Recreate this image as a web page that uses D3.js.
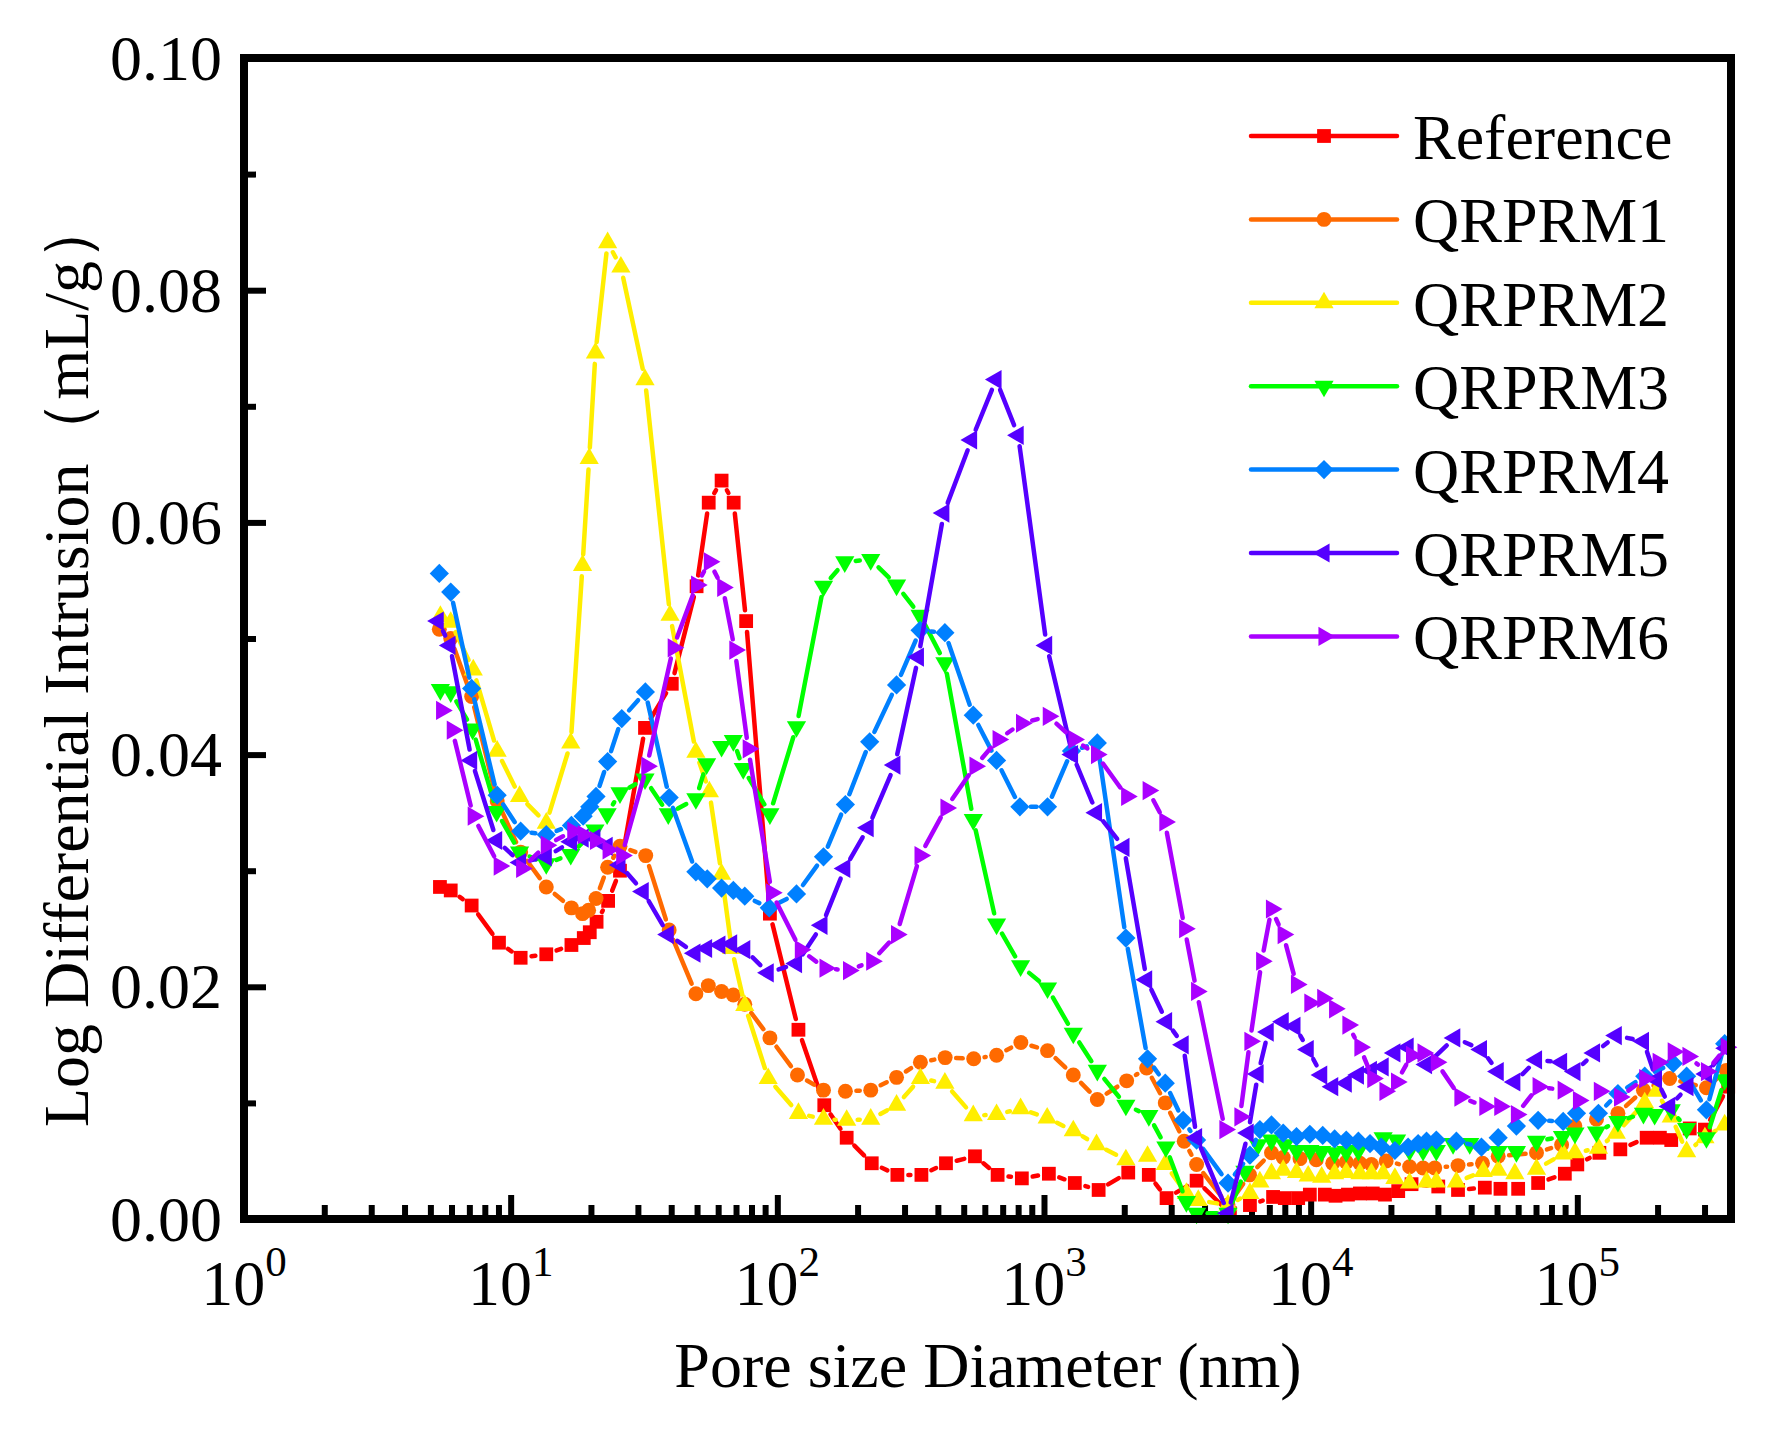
<!DOCTYPE html>
<html>
<head>
<meta charset="utf-8">
<script src="https://cdn.jsdelivr.net/npm/d3@7"></script>
<style>
  body { margin: 0; background: #fff; }
  svg { display: block; }
  text { font-family: 'Liberation Serif', 'Times New Roman', serif; fill: #000; }
</style>
</head>
<body>
<svg id="chart" width="1766" height="1433"></svg>
<script>
// values: [pore diameter (nm), log differential intrusion (mL/g)]
const reference = [
  [5.43, 0.0286], [5.96, 0.0283], [7.14, 0.0270], [9.04, 0.0238], [10.9, 0.0225], [13.6, 0.0228], [16.9, 0.0236],
  [18.8, 0.0242], [19.8, 0.0247], [21.0, 0.0256], [23.2, 0.0274], [25.7, 0.0300], [31.9, 0.0423], [40.2, 0.0461],
  [49.8, 0.0545], [55.3, 0.0617], [61.8, 0.0636], [68.6, 0.0617], [76.4, 0.0515], [93.8, 0.0263], [120, 0.0163],
  [150, 0.0098], [182, 0.0070], [226, 0.0048], [282, 0.0038], [347, 0.0038], [429, 0.0048], [551, 0.0054],
  [670, 0.0038], [826, 0.0035], [1043, 0.0039], [1305, 0.0031], [1603, 0.0025], [2070, 0.0040], [2472, 0.0038],
  [2882, 0.0018], [3735, 0.0033], [4980, 0.0005], [5920, 0.0012], [7230, 0.0019], [8000, 0.0018], [8980, 0.0018],
  [9930, 0.0021], [11300, 0.0021], [12400, 0.0020], [13800, 0.0021], [15300, 0.0022], [17100, 0.0022],
  [19000, 0.0021], [21300, 0.0024], [23900, 0.0030], [30100, 0.0028], [35700, 0.0025], [45000, 0.0027],
  [51500, 0.0026], [60000, 0.0026], [71300, 0.0031], [89800, 0.0039], [100000, 0.0047], [121000, 0.0057],
  [145000, 0.0060], [182000, 0.0070], [204000, 0.0070], [225000, 0.0068], [264000, 0.0078], [301000, 0.0077],
  [368000, 0.0114]
];

const qrprm1 = [
  [5.40, 0.0508], [5.96, 0.0500], [7.14, 0.0450], [8.9, 0.0360], [10.9, 0.0316], [13.6, 0.0286], [16.9, 0.0268],
  [18.6, 0.0263], [19.6, 0.0266], [20.9, 0.0276], [23.1, 0.0303], [25.7, 0.0321], [32.1, 0.0313], [39.3, 0.0249],
  [49.5, 0.0194], [55.1, 0.0201], [61.8, 0.0196], [68.4, 0.0193], [75.5, 0.0185], [93.8, 0.0156], [119, 0.0124],
  [149, 0.0111], [180, 0.0110], [224, 0.0111], [280, 0.0122], [344, 0.0135], [426, 0.0139], [545, 0.0138],
  [664, 0.0141], [819, 0.0152], [1031, 0.0145], [1288, 0.0124], [1585, 0.0103], [2042, 0.0119], [2426, 0.0130],
  [2850, 0.0100], [3355, 0.0067], [3735, 0.0047], [4900, 0.0012], [5900, 0.0038], [7130, 0.0057], [7890, 0.0053],
  [9120, 0.0052], [10500, 0.0051], [12100, 0.0048], [13600, 0.0049], [15300, 0.0048], [16900, 0.0047],
  [19200, 0.0050], [23500, 0.0045], [26400, 0.0044], [29200, 0.0044], [35700, 0.0046], [44100, 0.0048],
  [50500, 0.0054], [70300, 0.0057], [87300, 0.0064], [97900, 0.0080], [118000, 0.0086], [142000, 0.0091],
  [177000, 0.0111], [222000, 0.0121], [305000, 0.0113], [362000, 0.0128]
];

const qrprm2 = [
  [5.45, 0.0519], [5.96, 0.0514], [7.24, 0.0473], [8.9, 0.0403], [10.8, 0.0364], [13.6, 0.0341], [16.8, 0.0410],
  [18.6, 0.0563], [19.7, 0.0655], [20.8, 0.0746], [23.1, 0.0841], [25.9, 0.0820], [31.9, 0.0723], [39.6, 0.0520],
  [49.5, 0.0402], [55.6, 0.0368], [61.8, 0.0297], [67.4, 0.0233], [75.5, 0.0184], [92.4, 0.0121], [120, 0.0091],
  [149, 0.0086], [182, 0.0085], [224, 0.0086], [280, 0.0098], [344, 0.0121], [425, 0.0117], [543, 0.0089],
  [664, 0.0090], [817, 0.0095], [1028, 0.0087], [1288, 0.0076], [1574, 0.0064], [2028, 0.0051], [2445, 0.0054],
  [2850, 0.0047], [3420, 0.0022], [3790, 0.0016], [4900, 0.0012], [5920, 0.0022], [6450, 0.0032], [7130, 0.0039],
  [7890, 0.0042], [8850, 0.0040], [9790, 0.0037], [11000, 0.0036], [12300, 0.0039], [13600, 0.0040],
  [15300, 0.0039], [16900, 0.0039], [18700, 0.0039], [20700, 0.0035], [23500, 0.0031], [27200, 0.0032],
  [29600, 0.0032], [35200, 0.0032], [44400, 0.0041], [50500, 0.0042], [58300, 0.0039], [70300, 0.0043],
  [88500, 0.0056], [98000, 0.0057], [120000, 0.0061], [140000, 0.0074], [179000, 0.0100], [198000, 0.0110],
  [225000, 0.0088], [257000, 0.0058], [301000, 0.0070], [357000, 0.0081]
];

const qrprm3 = [
  [5.45, 0.0456], [5.96, 0.0454], [7.2, 0.0422], [8.86, 0.0351], [10.8, 0.0316], [13.6, 0.0306], [16.8, 0.0314],
  [20.7, 0.0335], [23.0, 0.0349], [25.7, 0.0367], [31.9, 0.0379], [39.0, 0.0349], [49.5, 0.0362], [54.3, 0.0392],
  [61.8, 0.0407], [68.4, 0.0412], [74.5, 0.0388], [93.8, 0.0349], [118, 0.0424], [149, 0.0545], [179, 0.0566],
  [224, 0.0568], [280, 0.0546], [343, 0.0520], [425, 0.0479], [543, 0.0344], [664, 0.0254], [817, 0.0218],
  [1031, 0.0199], [1288, 0.0160], [1585, 0.0128], [2028, 0.0098], [2473, 0.0089], [2865, 0.0062], [3420, 0.0015],
  [3735, 0.0005], [4900, 0.0005], [5670, 0.0041], [6350, 0.0064], [7130, 0.0068], [8000, 0.0064], [8850, 0.0059],
  [9930, 0.0059], [11000, 0.0058], [12300, 0.0057], [13600, 0.0058], [15100, 0.0059], [18700, 0.0070],
  [21000, 0.0068], [23500, 0.0059], [26400, 0.0059], [29600, 0.0059], [34200, 0.0065], [39500, 0.0065],
  [50500, 0.0058], [59100, 0.0058], [70300, 0.0067], [88000, 0.0071], [98000, 0.0074], [118000, 0.0075],
  [142000, 0.0084], [177000, 0.0091], [195000, 0.0090], [225000, 0.0094], [257000, 0.0078], [305000, 0.0070],
  [357000, 0.0120]
];

const qrprm4 = [
  [5.40, 0.0556], [5.96, 0.0540], [7.14, 0.0457], [8.9, 0.0365], [10.9, 0.0334], [13.6, 0.0331], [16.9, 0.0339],
  [18.7, 0.0347], [19.8, 0.0355], [20.9, 0.0364], [23.1, 0.0394], [26.1, 0.0431], [32.0, 0.0454], [39.3, 0.0363],
  [49.5, 0.0299], [54.6, 0.0293], [61.8, 0.0285], [68.4, 0.0283], [75.5, 0.0278], [93.3, 0.0268], [118, 0.0280],
  [149, 0.0312], [180, 0.0357], [222, 0.0411], [280, 0.0460], [343, 0.0507], [425, 0.0505], [543, 0.0434],
  [664, 0.0395], [812, 0.0355], [1031, 0.0355], [1268, 0.0403], [1585, 0.0410], [2028, 0.0242], [2445, 0.0138],
  [2850, 0.0117], [3326, 0.0085], [3735, 0.0068], [4900, 0.0031], [5920, 0.0055], [6450, 0.0077], [7130, 0.0081],
  [7890, 0.0074], [8850, 0.0071], [9930, 0.0073], [11100, 0.0072], [12300, 0.0069], [13600, 0.0068],
  [15100, 0.0067], [16700, 0.0065], [18400, 0.0062], [20700, 0.0059], [23200, 0.0062], [25300, 0.0065],
  [27200, 0.0067], [29600, 0.0068], [35200, 0.0067], [43700, 0.0062], [50500, 0.0070], [59100, 0.0080],
  [71300, 0.0085], [88500, 0.0084], [99300, 0.0091], [120000, 0.0091], [142000, 0.0108], [179000, 0.0123],
  [229000, 0.0134], [257000, 0.0123], [305000, 0.0094], [357000, 0.0151]
];

const qrprm5 = [
  [5.35, 0.0515], [5.92, 0.0494], [7.14, 0.0395], [8.86, 0.0326], [10.9, 0.0307], [13.6, 0.0312], [16.9, 0.0325],
  [18.7, 0.0328], [20.7, 0.0328], [23.0, 0.0321], [25.7, 0.0305], [31.4, 0.0282], [39.0, 0.0245], [49.1, 0.0229],
  [54.3, 0.0233], [60.9, 0.0236], [67.4, 0.0237], [75.5, 0.0232], [92.4, 0.0212], [118, 0.0220], [147, 0.0253],
  [179, 0.0302], [219, 0.0337], [276, 0.0391], [338, 0.0484], [421, 0.0608], [535, 0.0671], [661, 0.0723],
  [800, 0.0675], [1023, 0.0494], [1279, 0.0400], [1574, 0.0350], [1995, 0.0320], [2426, 0.0206], [2882, 0.0170],
  [3326, 0.0150], [3735, 0.0070], [4900, 0.0005], [5830, 0.0074], [6350, 0.0125], [6930, 0.0161], [7890, 0.0170],
  [8730, 0.0166], [9790, 0.0146], [11000, 0.0124], [12100, 0.0114], [13600, 0.0117], [15100, 0.0124],
  [16900, 0.0128], [18700, 0.0131], [20700, 0.0143], [23200, 0.0148], [27200, 0.0133], [34700, 0.0156],
  [43700, 0.0146], [50500, 0.0127], [58300, 0.0118], [70300, 0.0137], [87300, 0.0135], [98000, 0.0127],
  [116000, 0.0143], [140000, 0.0158], [177000, 0.0153], [198000, 0.0120], [222000, 0.0097], [260000, 0.0114],
  [305000, 0.0125], [362000, 0.0147]
];

const qrprm6 = [
  [5.51, 0.0438], [6.04, 0.0421], [7.24, 0.0347], [9.06, 0.0304], [11.0, 0.0302], [13.6, 0.0322], [17.1, 0.0334],
  [18.7, 0.0331], [20.8, 0.0326], [23.2, 0.0318], [26.1, 0.0313], [32.4, 0.0390], [40.7, 0.0492], [49.8, 0.0546],
  [55.6, 0.0566], [62.4, 0.0544], [69.3, 0.0490], [77.8, 0.0405], [95.2, 0.0281], [122, 0.0232], [151, 0.0216],
  [185, 0.0214], [226, 0.0222], [280, 0.0245], [343, 0.0313], [429, 0.0354], [551, 0.0390], [673, 0.0413],
  [824, 0.0427], [1038, 0.0433], [1295, 0.0413], [1574, 0.0400], [2042, 0.0364], [2459, 0.0369], [2840, 0.0342],
  [3370, 0.0250], [3735, 0.0196], [4770, 0.0077], [5430, 0.0088], [5920, 0.0153], [6550, 0.0222], [7130, 0.0267],
  [7890, 0.0245], [8850, 0.0202], [9930, 0.0186], [11100, 0.0190], [12300, 0.0181], [13800, 0.0167],
  [15300, 0.0148], [17100, 0.0121], [19000, 0.0110], [21000, 0.0118], [23900, 0.0141], [26400, 0.0143],
  [29600, 0.0135], [36300, 0.0105], [45000, 0.0097], [51200, 0.0097], [59100, 0.0090], [71300, 0.0114],
  [88500, 0.0111], [101000, 0.0102], [121000, 0.0110], [144000, 0.0105], [179000, 0.0121], [201000, 0.0135],
  [229000, 0.0144], [260000, 0.0140], [305000, 0.0127], [362000, 0.0148]
];

const seriesNames = ['Reference', 'QRPRM1', 'QRPRM2', 'QRPRM3', 'QRPRM4', 'QRPRM5', 'QRPRM6'];
const seriesData = [reference, qrprm1, qrprm2, qrprm3, qrprm4, qrprm5, qrprm6];
const seriesColors = ['#ff0000', '#ff6a00', '#ffee00', '#00ff00', '#0080ff', '#5500ff', '#aa00ff'];
const seriesShapes = ['square', 'circle', 'up', 'down', 'diamond', 'left', 'right'];

const yMajorTicks = [0, 0.02, 0.04, 0.06, 0.08, 0.10];
const yMinorTicks = [0.01, 0.03, 0.05, 0.07, 0.09];
const xMajorTicks = [1, 10, 100, 1000, 10000, 100000];
const xTickExponents = ['0', '1', '2', '3', '4', '5'];

const svg = d3.select('#chart');
const plotLeft = 244, plotRight = 1731, plotTop = 58, plotBottom = 1219;
const fontSize = 64;

const x = d3.scaleLog().domain([1, 3.77e5]).range([plotLeft, plotRight]);
const y = d3.scaleLinear().domain([0, 0.1]).range([plotBottom, plotTop]);

// minor x ticks 2..9 in every decade
let xMinorTicks = [];
for (let e = 0; e <= 5; e++) {
  for (let m = 2; m <= 9; m++) {
    let v = m * Math.pow(10, e);
    if (v < 3.77e5) xMinorTicks.push(v);
  }
}

function styleTicks(g) {
  g.select('.domain').remove();
  g.selectAll('.tick line').attr('stroke', '#000').attr('stroke-width', 6);
}

// bottom ticks (inward)
svg.append('g').attr('transform', `translate(0,${plotBottom})`)
  .call(d3.axisBottom(x).tickValues(xMinorTicks).tickSize(-14).tickFormat(''))
  .call(styleTicks);
svg.append('g').attr('transform', `translate(0,${plotBottom})`)
  .call(d3.axisBottom(x).tickValues(xMajorTicks).tickSize(-24).tickFormat(''))
  .call(styleTicks);

// left ticks (inward) + labels
svg.append('g').attr('transform', `translate(${plotLeft},0)`)
  .call(d3.axisLeft(y).tickValues(yMinorTicks).tickSize(-12).tickFormat(''))
  .call(styleTicks);
const yAxis = svg.append('g').attr('transform', `translate(${plotLeft},0)`)
  .call(d3.axisLeft(y).tickValues(yMajorTicks).tickSize(-22).tickPadding(22).tickFormat(d3.format('.2f')))
  .call(styleTicks);
yAxis.selectAll('.tick text')
  .attr('font-family', "'Liberation Serif', 'Times New Roman', serif")
  .attr('font-size', fontSize)
  .attr('fill', '#000')
  .attr('dy', '0.33em');

// x tick labels 10^n
const xl = svg.append('g');
xMajorTicks.forEach(function (v, i) {
  let t = xl.append('text')
    .attr('x', x(v))
    .attr('y', 1305)
    .attr('text-anchor', 'middle')
    .attr('font-size', fontSize);
  t.append('tspan').text('10');
  t.append('tspan').attr('dy', -29).attr('font-size', 43).text(xTickExponents[i]);
});

// symbols
function symbolPath(shape) {
  if (shape === 'square') return d3.symbol(d3.symbolSquare, 190)();
  if (shape === 'circle') return d3.symbol(d3.symbolCircle, 175)();
  if (shape === 'diamond') return d3.symbol(d3.symbolSquare, 185)();
  return d3.symbol(d3.symbolTriangle, 160)();
}
function symbolRotate(shape) {
  if (shape === 'down') return 180;
  if (shape === 'left') return -90;
  if (shape === 'right') return 90;
  if (shape === 'diamond') return 45;
  return 0;
}

const gap = 11;
const plot = svg.append('g');

seriesData.forEach(function (data, si) {
  let color = seriesColors[si];
  let shape = seriesShapes[si];
  let g = plot.append('g');

  // connecting segments with a small gap around each marker
  let segs = [];
  for (let i = 0; i < data.length - 1; i++) {
    let x1 = x(data[i][0]), y1 = y(data[i][1]);
    let x2 = x(data[i + 1][0]), y2 = y(data[i + 1][1]);
    let dx = x2 - x1, dy = y2 - y1;
    let len = Math.sqrt(dx * dx + dy * dy);
    if (len <= 2 * gap + 1) continue;
    let ux = dx / len, uy = dy / len;
    segs.push([[x1 + ux * gap, y1 + uy * gap], [x2 - ux * gap, y2 - uy * gap]]);
  }
  g.selectAll('path.seg').data(segs).enter().append('path')
    .attr('class', 'seg')
    .attr('d', (s) => d3.line()(s))
    .attr('stroke', color)
    .attr('stroke-width', 4.5)
    .attr('stroke-linecap', 'round')
    .attr('fill', 'none');

  g.selectAll('path.mk').data(data).enter().append('path')
    .attr('class', 'mk')
    .attr('d', symbolPath(shape))
    .attr('transform', (d) => `translate(${x(d[0])},${y(d[1])}) rotate(${symbolRotate(shape)})`)
    .attr('fill', color);
});

// frame
svg.append('rect')
  .attr('x', plotLeft).attr('y', plotTop)
  .attr('width', plotRight - plotLeft).attr('height', plotBottom - plotTop)
  .attr('fill', 'none').attr('stroke', '#000').attr('stroke-width', 8);

// legend
const legend = svg.append('g');
seriesNames.forEach(function (name, i) {
  let ly = 136 + i * 83.4;
  legend.append('line')
    .attr('x1', 1251).attr('x2', 1397).attr('y1', ly).attr('y2', ly)
    .attr('stroke', seriesColors[i]).attr('stroke-width', 4.5).attr('stroke-linecap', 'round');
  legend.append('path')
    .attr('d', symbolPath(seriesShapes[i]))
    .attr('transform', `translate(1324,${ly}) rotate(${symbolRotate(seriesShapes[i])})`)
    .attr('fill', seriesColors[i]);
  legend.append('text')
    .attr('x', 1413).attr('y', ly).attr('dy', '0.36em')
    .attr('font-size', fontSize)
    .text(name);
});

// axis titles
svg.append('text')
  .attr('x', 988).attr('y', 1387)
  .attr('text-anchor', 'middle')
  .attr('font-size', fontSize)
  .text('Pore size Diameter (nm)');

svg.append('text')
  .attr('transform', 'translate(88,662) rotate(-90)')
  .attr('text-anchor', 'middle')
  .attr('font-size', fontSize)
  .text('Log Differential Intrusion（mL/g）');
</script>
</body>
</html>
